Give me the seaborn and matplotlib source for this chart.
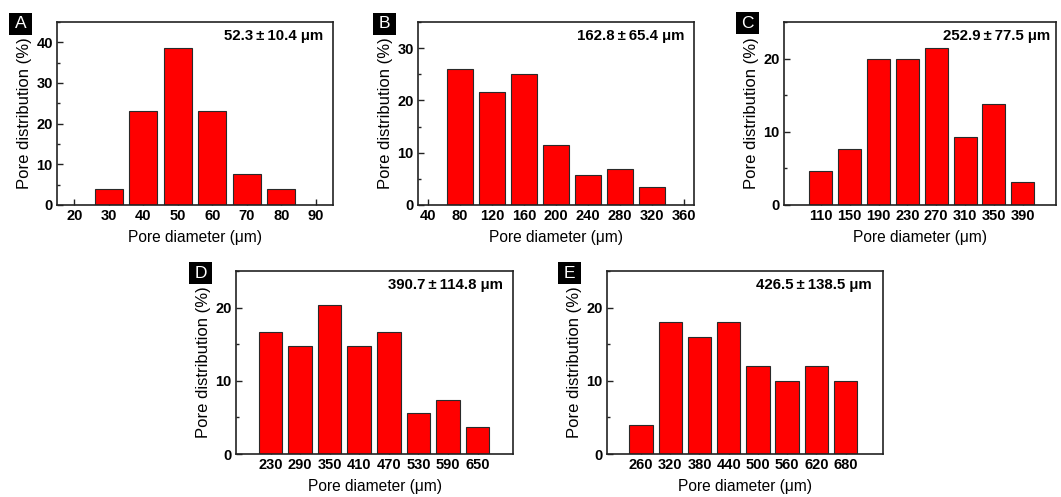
import matplotlib
matplotlib.use("Agg")
import matplotlib.pyplot as plt
from matplotlib.patches import Rectangle
from matplotlib.ticker import MultipleLocator
import seaborn as sns
import pandas as pd

sns.set_theme(style="white")
plt.rcParams['font.family'] = ['Liberation Sans', 'DejaVu Sans']
plt.rcParams.update({"text.color": "black", "axes.labelcolor": "black",
                     "xtick.color": "black", "ytick.color": "black"})

# ---- data ----
a_diam = [30, 40, 50, 60, 70, 80]
a_pct = [3.85, 23.1, 38.5, 23.1, 7.7, 3.85]
a_ticks = [20, 30, 40, 50, 60, 70, 80, 90]

b_diam = [80, 120, 160, 200, 240, 280, 320]
b_pct = [26.1, 21.6, 25.0, 11.4, 5.75, 6.85, 3.35]
b_ticks = [40, 80, 120, 160, 200, 240, 280, 320, 360]

c_diam = [110, 150, 190, 230, 270, 310, 350, 390]
c_pct = [4.6, 7.7, 20.0, 20.0, 21.5, 9.25, 13.85, 3.1]
c_ticks = [110, 150, 190, 230, 270, 310, 350, 390]

d_diam = [230, 290, 350, 410, 470, 530, 590, 650]
d_pct = [16.7, 14.8, 20.4, 14.8, 16.7, 5.55, 7.4, 3.7]
d_ticks = [230, 290, 350, 410, 470, 530, 590, 650]

e_diam = [260, 320, 380, 440, 500, 560, 620, 680]
e_pct = [4.0, 18.0, 16.0, 18.0, 12.0, 10.0, 12.0, 10.0]
e_ticks = [260, 320, 380, 440, 500, 560, 620, 680]

labels = ["A", "B", "C", "D", "E"]
stats = ["52.3\u2009\u00b1\u200910.4 \u03bcm", "162.8\u2009\u00b1\u200965.4 \u03bcm",
         "252.9\u2009\u00b1\u200977.5 \u03bcm", "390.7\u2009\u00b1\u2009114.8 \u03bcm",
         "426.5\u2009\u00b1\u2009138.5 \u03bcm"]

W, H = 1061, 497
fig = plt.figure(figsize=(W / 100, H / 100), dpi=100)

# pixel boxes (left, right, top, bottom)
boxes = [(57, 333, 22, 205), (418, 694, 22, 205), (784, 1056, 22, 205),
         (236, 513, 271, 454), (607, 883, 271, 454)]
xlims = [(15, 95), (28, 372), (59, 436), (160, 722), (190, 757)]
ylims = [45, 35, 25, 25, 25]
letter_boxes = [(9, 13), (373, 13), (736, 12), (189, 262), (558, 262)]
text_offsets = [10, 10, 6, 10, 11]

panels = [(a_diam, a_pct, a_ticks), (b_diam, b_pct, b_ticks), (c_diam, c_pct, c_ticks),
          (d_diam, d_pct, d_ticks), (e_diam, e_pct, e_ticks)]

for i, ((diam, pct, ticks), (l, r, t, b)) in enumerate(zip(panels, boxes)):
    ax = fig.add_axes([l / W, 1 - b / H, (r - l) / W, (b - t) / H])
    df = pd.DataFrame({"d": diam, "p": pct})
    sns.barplot(data=df, x="d", y="p", native_scale=True, width=0.8,
                color="#ff0000", saturation=1, edgecolor="#2a2a2a",
                linewidth=0.8, ax=ax)
    ax.set_xlim(*xlims[i])
    ax.set_ylim(0, ylims[i])
    ax.set_xticks(ticks)
    ax.set_xticklabels([str(v) for v in ticks])
    ax.yaxis.set_major_locator(MultipleLocator(10))
    ax.yaxis.set_minor_locator(MultipleLocator(5))
    ax.tick_params(axis="both", which="major", direction="in", length=4, width=1,
                   labelsize=10.5, pad=3, bottom=True, left=True, color="#222222")
    ax.tick_params(axis="y", which="minor", direction="in", length=2.5, width=1,
                   left=True, color="#222222")
    for lab in ax.get_xticklabels() + ax.get_yticklabels():
        lab.set_fontweight("bold")
    for s in ax.spines.values():
        s.set_color("#222222")
        s.set_linewidth(1.2)
    ax.set_xlabel("Pore diameter (\u03bcm)", fontsize=11.2, labelpad=5)
    ax.set_ylabel("Pore distribution (%)", fontsize=12, labelpad=3)
    ax.annotate(stats[i], xy=(1, 1), xycoords="axes fraction",
                xytext=(-text_offsets[i] * 0.72, -10), textcoords="offset points",
                ha="right", va="center", fontsize=10.8, fontweight="bold")

    bx, by = letter_boxes[i]
    fig.patches.append(Rectangle((bx / W, 1 - (by + 22) / H), 23 / W, 22 / H,
                                 transform=fig.transFigure, facecolor="black",
                                 edgecolor="none", figure=fig))
    fig.text((bx + 11.5) / W, 1 - (by + 11) / H, labels[i], color="white",
             fontsize=12.5, ha="center", va="center")

fig.savefig("out.png", dpi=100, facecolor="white")
